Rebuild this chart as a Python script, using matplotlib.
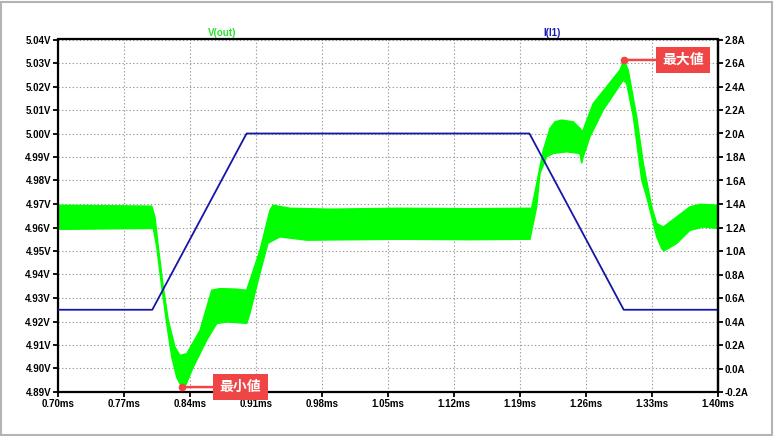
import numpy as np
import matplotlib
matplotlib.use("Agg")
import matplotlib.pyplot as plt
from matplotlib.patches import Rectangle

# V(out) ripple band: upper and lower edge of the green trace
up_time = [0.7000, 0.7994, 0.8029, 0.8064, 0.8117, 0.8170, 0.8241, 0.8294, 0.8365, 0.8506,
           0.8630, 0.8718, 0.8877, 0.9001, 0.9036, 0.9142, 0.9248, 0.9280, 0.9461, 0.9885,
           1.0627, 1.1370, 1.2024, 1.2077, 1.2147, 1.2218, 1.2271, 1.2342, 1.2465, 1.2536,
           1.2564, 1.2589, 1.2677, 1.2819, 1.2960, 1.3003, 1.3048, 1.3138, 1.3208, 1.3297,
           1.3350, 1.3420, 1.3562, 1.3703, 1.3809, 1.4000]
up_volt = [4.9695, 4.9691, 4.9645, 4.9517, 4.9347, 4.9205, 4.9091, 4.9056, 4.9063, 4.9162,
           4.9333, 4.9340, 4.9338, 4.9333, 4.9375, 4.9503, 4.9674, 4.9695, 4.9682, 4.9678,
           4.9682, 4.9680, 4.9682, 4.9787, 4.9929, 5.0022, 5.0050, 5.0057, 5.0050, 5.0022,
           5.0007, 5.0036, 5.0128, 5.0199, 5.0270, 5.0313, 5.0270, 5.0071, 4.9873, 4.9688,
           4.9617, 4.9602, 4.9645, 4.9688, 4.9699, 4.9695]

lo_time = [0.7000, 0.8011, 0.8047, 0.8100, 0.8153, 0.8206, 0.8259, 0.8312, 0.8358, 0.8435,
           0.8577, 0.8683, 0.8789, 0.9001, 0.9036, 0.9142, 0.9227, 0.9354, 0.9638, 1.0627,
           1.1370, 1.2006, 1.2077, 1.2112, 1.2183, 1.2253, 1.2395, 1.2536, 1.2554, 1.2571,
           1.2642, 1.2783, 1.2925, 1.2995, 1.3031, 1.3102, 1.3191, 1.3244, 1.3297, 1.3350,
           1.3403, 1.3427, 1.3562, 1.3703, 1.3844, 1.4000]
lo_volt = [4.9592, 4.9596, 4.9517, 4.9347, 4.9191, 4.9049, 4.8963, 4.8921, 4.8932, 4.9006,
           4.9120, 4.9191, 4.9198, 4.9192, 4.9235, 4.9405, 4.9533, 4.9560, 4.9546, 4.9550,
           4.9548, 4.9550, 4.9688, 4.9830, 4.9901, 4.9915, 4.9922, 4.9915, 4.9873, 4.9901,
           4.9986, 5.0100, 5.0185, 5.0227, 5.0213, 5.0071, 4.9801, 4.9730, 4.9645, 4.9560,
           4.9510, 4.9500, 4.9532, 4.9588, 4.9602, 4.9596]

# I(I1) load current
i_time = [0.70, 0.80, 0.90, 1.20, 1.30, 1.40]
i_amp = [0.5, 0.5, 2.0, 2.0, 0.5, 0.5]

x_ticks = [0.70, 0.77, 0.84, 0.91, 0.98, 1.05, 1.12, 1.19, 1.26, 1.33, 1.40]
v_ticks = [4.89, 4.90, 4.91, 4.92, 4.93, 4.94, 4.95, 4.96, 4.97, 4.98, 4.99, 5.00, 5.01, 5.02, 5.03, 5.04]
a_ticks = [-0.2, 0.0, 0.2, 0.4, 0.6, 0.8, 1.0, 1.2, 1.4, 1.6, 1.8, 2.0, 2.2, 2.4, 2.6, 2.8]

min_label = "最小値"
max_label = "最大値"

plt.rcParams['font.family'] = ['Liberation Sans', 'DejaVu Sans']

W, H = 774, 436
fig = plt.figure(figsize=(W / 100, H / 100), dpi=100)
fig.patch.set_facecolor('white')
fig.patches.append(Rectangle((1 / W, 1 / H), 1 - 3 / W, 1 - 3 / H, transform=fig.transFigure,
                             fill=False, edgecolor='#b4b4b4', linewidth=1.5))

ax = fig.add_axes([58 / W, 1 - 392 / H, 660 / W, 352.5 / H])
ax2 = ax.twinx()

# green band as one polygon: upper edge forward, lower edge back
band_x = np.concatenate([up_time, lo_time[::-1]])
band_y = np.concatenate([up_volt, lo_volt[::-1]])
ax.fill(band_x, band_y, color='#00ff00', linewidth=1.0, edgecolor='#00ff00', zorder=2)

ax2.plot(i_time, i_amp, color='#1515a8', linewidth=1.3)

ax.set_xlim(0.70, 1.40)
ax.set_ylim(4.89, 5.04)
ax2.set_ylim(-0.2, 2.8)

ax.set_xticks(x_ticks)
ax.set_xticklabels(["%.2fms" % t for t in x_ticks])
ax.set_yticks(v_ticks)
ax.set_yticklabels(["%.2fV" % v for v in v_ticks])
ax2.set_yticks(a_ticks)
ax2.set_yticklabels(["%.1fA" % a for a in a_ticks])

ax.grid(True, color='#9a9a9a', linestyle=(0, (1.2, 2.0)), linewidth=0.8)
ax.set_axisbelow(True)

for a in (ax, ax2):
  a.tick_params(direction='out', length=3.5, width=1.3, color='black', labelsize=7, pad=1.5)
  for lab in a.get_xticklabels() + a.get_yticklabels():
    lab.set_fontweight('bold')
for s in ax.spines.values():
  s.set_linewidth(1.6)
for s in ('left', 'top', 'bottom'):
  ax2.spines[s].set_visible(False)
ax2.spines['right'].set_linewidth(1.6)

# trace names above the plot
fig.text(222 / W, 1 - 33.5 / H, "V(out)", color='#2ee02e', fontsize=7, fontweight='bold',
         ha='center', va='center')
fig.text(552 / W, 1 - 33.5 / H, "I(I1)", color='#1a1ab0', fontsize=7, fontweight='bold',
         ha='center', va='center')

# min / max markers
imin = int(np.argmin(lo_volt))
imax = int(np.argmax(up_volt))
red = '#f04545'
cjk = ['Noto Sans CJK JP', 'DejaVu Sans']
for (tx, vy, label) in [(lo_time[imin], lo_volt[imin], min_label), (up_time[imax], up_volt[imax], max_label)]:
  ax.plot([tx], [vy], 'o', color=red, markersize=4.5, zorder=6, clip_on=False)
  ax.annotate(label, xy=(tx, vy), xytext=(38, 0), textcoords='offset pixels',
              ha='left', va='center', color='white', fontsize=10, fontweight='bold', family=cjk,
              bbox=dict(boxstyle='square,pad=0.45', fc=red, ec='none'),
              arrowprops=dict(arrowstyle='-', color=red, lw=1.8, shrinkA=0, shrinkB=0),
              zorder=7, annotation_clip=False)

fig.savefig("out.png", dpi=100, facecolor='white')
